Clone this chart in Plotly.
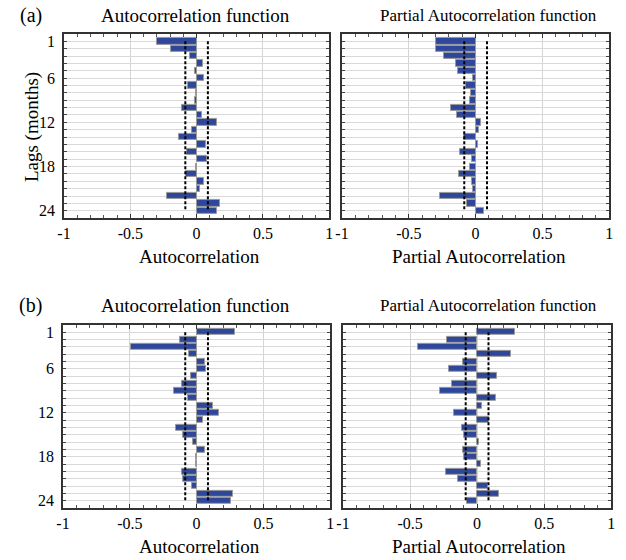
import plotly.graph_objects as go

# ---- data ----
lags = list(range(1, 25))
lag_tick_text = ["1", "", "", "", "", "6", "", "", "", "", "", "12",
                 "", "", "", "", "", "18", "", "", "", "", "", "24"]
x_tick_vals = [-1, -0.5, 0, 0.5, 1]
x_tick_text = ["-1", "-0.5", "0", "0.5", "1"]

acf_a = [-0.30, -0.19, -0.05, 0.045, -0.01, 0.057, -0.062, -0.004, -0.01, -0.108,
         0.037, 0.153, -0.032, -0.135, 0.069, -0.069, 0.079, -0.005, -0.079, 0.054,
         0.022, -0.222, 0.177, 0.150]
pacf_a = [-0.30, -0.30, -0.24, -0.146, -0.134, -0.022, -0.073, -0.037, -0.044, -0.185,
          -0.137, 0.037, 0.027, -0.085, 0.015, -0.117, -0.024, -0.044, -0.124, -0.029,
          -0.02, -0.27, -0.063, 0.063]
acf_b = [0.287, -0.124, -0.49, -0.057, 0.064, 0.072, -0.04, -0.109, -0.166, -0.064,
         0.124, 0.166, 0.045, -0.158, -0.099, -0.03, 0.064, -0.005, -0.008, -0.109,
         -0.104, -0.032, 0.275, 0.26]
pacf_b = [0.286, -0.222, -0.438, 0.254, -0.108, -0.207, 0.145, -0.185, -0.273, 0.138,
          0.037, -0.175, 0.091, -0.111, -0.101, 0.017, -0.103, -0.101, 0.03, -0.232,
          -0.14, 0.079, 0.163, -0.079]

conf_limits = [-0.085, 0.085]
conf_lag_span = [1, 24]

panel_titles = ["Autocorrelation function", "Partial Autocorrelation function",
                "Autocorrelation function", "Partial Autocorrelation function"]
x_titles = ["Autocorrelation", "Partial Autocorrelation",
            "Autocorrelation", "Partial Autocorrelation"]
series = [acf_a, pacf_a, acf_b, pacf_b]

# ---- geometry (page body margin removed via post_script) ----
FW, FH = 626, 560


def px(x):
    return x / FW


def py(y):
    return 1 - y / FH


FONT = "Liberation Serif, Times New Roman, serif"
boxes = [(58, 328, 33, 218), (341, 613, 33, 218), (57, 329, 325, 509), (342, 615, 325, 509)]

BAR_COLOR = "#2E479A"
BAR_EDGE = "#9a9a9a"

fig = go.Figure()
for i, vals in enumerate(series):
    xa = "x" if i == 0 else f"x{i+1}"
    ya = "y" if i == 0 else f"y{i+1}"
    fig.add_trace(go.Bar(x=vals, y=lags, orientation="h", width=0.85,
                         marker=dict(color=BAR_COLOR, line=dict(color=BAR_EDGE, width=1)),
                         xaxis=xa, yaxis=ya, showlegend=False, hoverinfo="x+y"))
    for c in conf_limits:
        fig.add_trace(go.Scatter(x=[c, c], y=conf_lag_span, mode="lines",
                                 line=dict(color="black", width=2, dash="3px,2px"),
                                 xaxis=xa, yaxis=ya, showlegend=False, hoverinfo="skip"))

layout = dict(width=FW, height=FH, margin=dict(l=0, r=0, t=0, b=0),
              paper_bgcolor="white", plot_bgcolor="white",
              font=dict(family=FONT, size=16, color="black"), bargap=0)

for i in range(4):
    xk = "xaxis" if i == 0 else f"xaxis{i+1}"
    yk = "yaxis" if i == 0 else f"yaxis{i+1}"
    ya = "y" if i == 0 else f"y{i+1}"
    xa = "x" if i == 0 else f"x{i+1}"
    x0, x1, y0, y1 = boxes[i]
    layout[xk] = dict(domain=[px(x0), px(x1)], anchor=ya, range=[-1, 1],
                      tickvals=x_tick_vals, ticktext=x_tick_text,
                      ticks="inside", ticklen=4, tickcolor="#333",
                      minor=dict(dtick=0.1, tick0=0, ticks="inside", ticklen=3,
                                 tickcolor="#555", showgrid=False),
                      showgrid=True, gridcolor="#d4d4d4", gridwidth=1,
                      showline=True, linecolor="#333", linewidth=1.5, mirror="allticks",
                      zeroline=False, ticklabelstandoff=0,
                      tickfont=dict(family=FONT, size=16, color="black"))
    layout[yk] = dict(domain=[py(y1), py(y0)], anchor=xa, range=[25, 0],
                      tickvals=lags, ticktext=lag_tick_text,
                      showticklabels=(i % 2 == 0),
                      ticks="inside", ticklen=3, tickcolor="#444",
                      showgrid=True, gridcolor="#d9d9d9", gridwidth=1,
                      showline=True, linecolor="#333", linewidth=1.5, mirror="allticks",
                      zeroline=False, ticklabelstandoff=4,
                      tickfont=dict(family=FONT, size=16, color="black"))

fig.update_layout(**layout)

# ---- text annotations ----
title_pos = [(192, 15), (490, 15), (192, 306), (490, 306)]
title_size = [19, 17, 19, 17]
xtitle_pos = [(196, 256), (480, 256), (196, 547), (480, 547)]
ann = []
for i in range(4):
    ann.append(dict(text=panel_titles[i], x=px(title_pos[i][0]), y=py(title_pos[i][1]),
                    xref="paper", yref="paper", showarrow=False, xanchor="center", yanchor="middle",
                    font=dict(family=FONT, size=title_size[i], color="black")))
    ann.append(dict(text=x_titles[i], x=px(xtitle_pos[i][0]), y=py(xtitle_pos[i][1]),
                    xref="paper", yref="paper", showarrow=False, xanchor="center", yanchor="middle",
                    font=dict(family=FONT, size=19, color="black")))
ann.append(dict(text="(a)", x=px(24), y=py(15), xref="paper", yref="paper", showarrow=False,
                xanchor="center", yanchor="middle", font=dict(family=FONT, size=20, color="black")))
ann.append(dict(text="(b)", x=px(24), y=py(306), xref="paper", yref="paper", showarrow=False,
                xanchor="center", yanchor="middle", font=dict(family=FONT, size=20, color="black")))
ann.append(dict(text="Lags (months)", x=px(25), y=py(127), xref="paper", yref="paper",
                showarrow=False, textangle=-90, xanchor="center", yanchor="middle",
                font=dict(family=FONT, size=19, color="black")))
fig.update_layout(annotations=ann)

fig.write_html("out.html", config={"displayModeBar": False},
               post_script="document.body.style.margin='0px';")
